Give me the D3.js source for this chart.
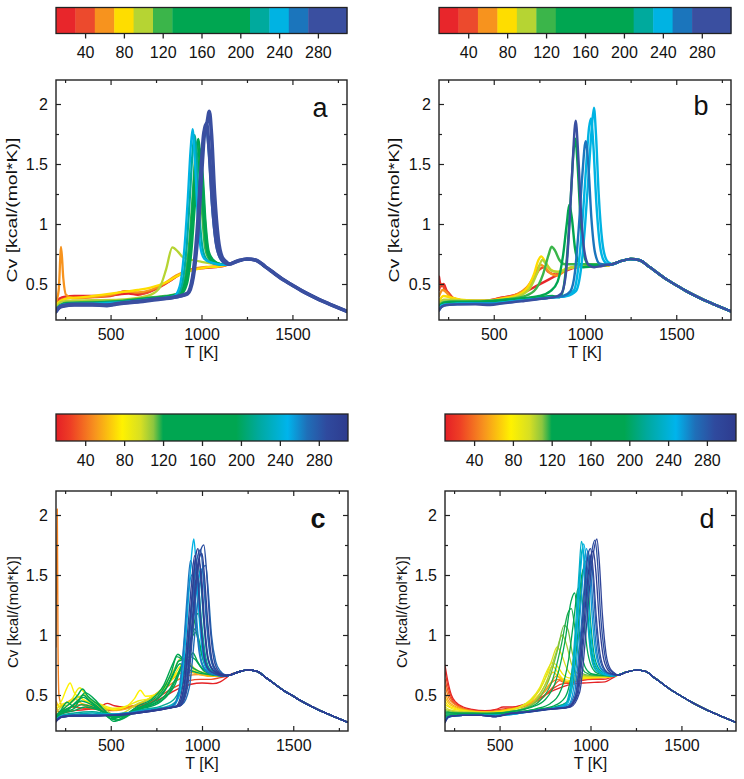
<!DOCTYPE html>
<html><head><meta charset="utf-8">
<script src="https://cdn.jsdelivr.net/npm/d3@7"></script>
<style>
body{margin:0;background:#fff}
svg{display:block}
text{font-family:"Liberation Sans",Arial,Helvetica,sans-serif;fill:#111}
</style>
</head><body>
<svg id="fig" width="744" height="779"></svg>
<script>
// ---------- data ----------
const tempDomain = [200, 1800];
const cvDomain = [0.2, 2.2];
const tempTicks = [500, 1000, 1500];
const tempMinor = [250, 750, 1250, 1750];
const cvTicks = [0.5, 1, 1.5, 2];
const cvMinor = [0.75, 1.25, 1.75];
const cbarDomain = [10, 310];
const cbarTicks = [40, 80, 120, 160, 200, 240, 280];
const bandEdges = [30, 50, 70, 90, 110, 130, 210, 230, 250, 270];
const bandColors = ["#e8262b","#ec4a2d","#f7931e","#fedd00","#b6d433","#3bb54a","#00a651","#00aa9d","#00b3e3","#1b75bc","#3a4fa0"];
const gradValues = [10, 25, 50, 78, 97, 110, 120, 195, 218, 248, 268, 288, 310];
const gradColors = ["#e41f26","#ee3e25","#f7931e","#fff200","#d7df23","#8dc63f","#00a651","#00a651","#00a99d","#00b4ec","#1f6fb8","#2f4a9e","#2e3b8e"];
const panelLetters = ["a","b","c","d"];
const xTitle = "T [K]";
const yTitle = "Cv [kcal/(mol*K)]";

// common high-temperature branch shared by all curves
const tailT = [1150,1200,1250,1300,1350,1400,1450,1500,1550,1600,1650,1700,1750,1800];
const tailV = [0.665,0.692,0.708,0.698,0.645,0.59,0.535,0.49,0.445,0.405,0.368,0.335,0.303,0.272];

// panel a
const aParam = [20,40,60,80,100,120,150,180,200,220,240,260,290,300];
const aCurves = [
 [[200,0.34],[220,0.38],[250,0.395],[300,0.40],[400,0.40],[500,0.405],[600,0.42],[650,0.41],[700,0.43],[760,0.47],[820,0.52],[870,0.57],[920,0.61],[970,0.63],[1030,0.635],[1080,0.64],[1120,0.65]],
 [[200,0.33],[220,0.36],[250,0.38],[300,0.385],[400,0.39],[500,0.40],[580,0.44],[620,0.43],[680,0.42],[740,0.45],[800,0.50],[860,0.56],[910,0.60],[960,0.625],[1020,0.635],[1080,0.645],[1120,0.65]],
 [[200,0.35],[215,0.45],[228,0.81],[240,0.55],[255,0.41],[300,0.38],[400,0.39],[500,0.41],[590,0.44],[650,0.43],[720,0.45],[790,0.50],[860,0.57],[920,0.61],[980,0.635],[1050,0.645],[1120,0.655]],
 [[200,0.33],[225,0.36],[260,0.38],[350,0.39],[450,0.41],[550,0.43],[650,0.45],[720,0.47],[800,0.51],[870,0.57],[920,0.60],[980,0.625],[1040,0.64],[1090,0.645],[1120,0.655]],
 [[200,0.30],[225,0.35],[260,0.36],[400,0.365],[550,0.37],[650,0.385],[720,0.41],[770,0.47],[805,0.62],[840,0.805],[870,0.77],[900,0.72],[950,0.70],[1000,0.685],[1060,0.67],[1120,0.66]],
 [[200,0.29],[225,0.33],[260,0.345],[400,0.35],[550,0.36],[700,0.385],[800,0.40],[870,0.42],[905,0.52],[930,0.80],[950,1.20],[965,1.55],[975,1.68],[988,1.50],[1003,1.10],[1020,0.80],[1045,0.70],[1080,0.675],[1120,0.66]],
 [[200,0.28],[225,0.32],[260,0.34],[400,0.345],[550,0.355],[700,0.38],[800,0.395],[875,0.42],[910,0.52],[935,0.80],[955,1.25],[970,1.60],[982,1.71],[995,1.50],[1010,1.10],[1028,0.80],[1050,0.70],[1085,0.675],[1120,0.66]],
 [[200,0.28],[225,0.32],[260,0.335],[400,0.34],[550,0.35],[700,0.375],[800,0.39],[880,0.41],[915,0.50],[940,0.78],[960,1.20],[978,1.55],[990,1.63],[1002,1.45],[1018,1.05],[1035,0.78],[1060,0.70],[1090,0.67],[1120,0.66]],
 [[200,0.28],[225,0.32],[260,0.335],[400,0.34],[550,0.35],[700,0.375],[800,0.39],[885,0.41],[920,0.50],[945,0.78],[965,1.18],[983,1.48],[995,1.55],[1007,1.40],[1022,1.02],[1040,0.77],[1065,0.70],[1095,0.67],[1120,0.66]],
 [[200,0.28],[225,0.32],[260,0.335],[400,0.34],[550,0.35],[700,0.37],[800,0.385],[860,0.40],[890,0.48],[915,0.75],[935,1.20],[950,1.58],[962,1.74],[975,1.50],[990,1.05],[1008,0.78],[1030,0.70],[1070,0.67],[1120,0.66]],
 [[200,0.28],[225,0.32],[260,0.33],[400,0.335],[550,0.345],[700,0.37],[800,0.385],[850,0.40],[880,0.48],[905,0.78],[925,1.22],[940,1.62],[951,1.79],[963,1.55],[978,1.10],[995,0.80],[1015,0.71],[1050,0.68],[1120,0.66]],
 [[200,0.27],[215,0.30],[240,0.32],[300,0.33],[400,0.33],[480,0.325],[550,0.34],[650,0.355],[750,0.375],[850,0.39],[920,0.42],[950,0.55],[975,0.90],[995,1.35],[1012,1.70],[1025,1.80],[1040,1.60],[1058,1.15],[1078,0.85],[1100,0.72],[1130,0.67]],
 [[200,0.27],[215,0.30],[240,0.32],[300,0.33],[400,0.33],[480,0.325],[550,0.34],[650,0.355],[750,0.375],[850,0.39],[925,0.42],[955,0.56],[980,0.92],[1000,1.40],[1018,1.78],[1030,1.84],[1043,1.94],[1055,1.75],[1072,1.25],[1092,0.88],[1115,0.72],[1140,0.68]],
 [[200,0.27],[215,0.30],[240,0.315],[300,0.325],[400,0.325],[480,0.32],[550,0.335],[650,0.35],[750,0.37],[850,0.39],[920,0.42],[950,0.55],[975,0.92],[995,1.40],[1012,1.75],[1028,1.84],[1042,1.62],[1060,1.18],[1080,0.86],[1105,0.72],[1135,0.675]]
];

// panel b
const bParam = [20,40,60,80,100,120,160,180,240,245,260,290];
const bCurves = [
 [[200,0.56],[212,0.48],[225,0.50],[240,0.45],[260,0.40],[300,0.37],[400,0.355],[500,0.37],[560,0.39],[620,0.41],[680,0.44],[730,0.48],[780,0.52],[830,0.56],[880,0.60],[930,0.63],[980,0.645],[1040,0.65],[1090,0.65],[1120,0.655]],
 [[200,0.45],[215,0.50],[230,0.46],[250,0.43],[280,0.38],[350,0.36],[450,0.36],[540,0.385],[600,0.40],[660,0.44],[710,0.52],[750,0.62],[775,0.64],[800,0.60],[840,0.58],[880,0.61],[930,0.64],[1000,0.65],[1060,0.65],[1120,0.655]],
 [[200,0.40],[220,0.45],[240,0.43],[270,0.38],[350,0.36],[450,0.355],[550,0.38],[620,0.41],[680,0.47],[720,0.56],[755,0.66],[780,0.64],[810,0.59],[850,0.57],[890,0.61],[940,0.64],[1000,0.65],[1120,0.655]],
 [[200,0.36],[225,0.40],[260,0.39],[320,0.37],[450,0.36],[550,0.38],[620,0.40],[680,0.46],[720,0.58],[745,0.70],[760,0.73],[780,0.69],[810,0.62],[850,0.60],[900,0.63],[960,0.645],[1040,0.65],[1120,0.655]],
 [[200,0.34],[225,0.37],[260,0.37],[350,0.36],[450,0.36],[550,0.37],[640,0.40],[700,0.47],[740,0.60],[765,0.70],[790,0.66],[820,0.61],[860,0.60],[910,0.63],[970,0.645],[1050,0.65],[1120,0.655]],
 [[200,0.32],[225,0.35],[260,0.355],[400,0.355],[550,0.37],[650,0.39],[720,0.44],[770,0.58],[800,0.74],[817,0.81],[835,0.78],[860,0.70],[890,0.665],[940,0.665],[1000,0.665],[1060,0.665],[1120,0.66]],
 [[200,0.31],[225,0.34],[260,0.35],[400,0.35],[550,0.365],[650,0.38],[750,0.40],[810,0.44],[850,0.52],[880,0.74],[900,1.00],[914,1.16],[928,1.05],[945,0.80],[965,0.68],[990,0.64],[1030,0.645],[1080,0.655],[1120,0.66]],
 [[200,0.31],[225,0.34],[260,0.345],[400,0.35],[550,0.36],[650,0.375],[750,0.39],[820,0.40],[860,0.39],[880,0.45],[905,0.80],[925,1.30],[938,1.62],[947,1.71],[960,1.48],[975,1.05],[995,0.74],[1020,0.66],[1060,0.655],[1120,0.66]],
 [[200,0.29],[215,0.32],[240,0.33],[300,0.335],[400,0.34],[500,0.34],[600,0.355],[700,0.37],[800,0.385],[900,0.40],[950,0.44],[980,0.65],[1000,0.98],[1020,1.42],[1037,1.80],[1049,1.97],[1060,1.75],[1075,1.25],[1095,0.85],[1118,0.70],[1140,0.67]],
 [[200,0.29],[215,0.32],[240,0.33],[300,0.335],[400,0.34],[500,0.34],[600,0.355],[700,0.37],[800,0.385],[890,0.40],[940,0.45],[965,0.66],[985,1.00],[1005,1.45],[1022,1.80],[1033,1.88],[1046,1.65],[1062,1.18],[1082,0.82],[1105,0.69],[1130,0.665]],
 [[200,0.28],[215,0.31],[240,0.325],[300,0.33],[400,0.335],[500,0.335],[600,0.35],[700,0.37],[800,0.385],[880,0.40],[920,0.44],[945,0.60],[965,0.95],[985,1.40],[1004,1.69],[1018,1.50],[1035,1.05],[1055,0.76],[1080,0.67],[1120,0.66]],
 [[200,0.28],[215,0.31],[240,0.325],[300,0.33],[400,0.33],[480,0.325],[550,0.34],[650,0.355],[750,0.375],[830,0.39],[870,0.42],[895,0.58],[915,1.00],[932,1.50],[949,1.86],[962,1.60],[978,1.10],[998,0.76],[1020,0.66],[1050,0.64],[1090,0.65],[1120,0.66]]
];

// panel c
const cParam = [12,28,45,60,78,85,100,120,135,140,150,165,180,195,215,228,245,252,265,270,275,285,295,305,280,290,300,258];
const cCurves = [
 [[200,0.36],[215,0.33],[240,0.35],[300,0.37],[380,0.38],[440,0.40],[480,0.43],[520,0.41],[580,0.40],[640,0.41],[700,0.43],[760,0.46],[820,0.51],[880,0.56],[940,0.59],[1000,0.60],[1060,0.595],[1100,0.61],[1130,0.64]],
 [[200,0.42],[212,0.36],[240,0.37],[290,0.40],[350,0.39],[420,0.38],[500,0.37],[560,0.38],[620,0.40],[690,0.42],[750,0.47],[810,0.53],[870,0.58],[930,0.62],[990,0.63],[1050,0.63],[1100,0.645],[1130,0.655]],
 [[200,0.90],[207,2.05],[211,0.90],[216,0.50],[228,0.42],[250,0.38],[280,0.40],[330,0.42],[380,0.40],[440,0.39],[500,0.38],[560,0.39],[620,0.41],[680,0.44],[740,0.50],[800,0.56],[860,0.62],[920,0.66],[980,0.67],[1040,0.66],[1100,0.655],[1130,0.66]],
 [[200,0.45],[220,0.40],[260,0.44],[300,0.47],[340,0.43],[400,0.41],[460,0.39],[530,0.37],[600,0.39],[660,0.43],[720,0.48],[780,0.55],[830,0.62],[880,0.68],[930,0.69],[990,0.67],[1050,0.655],[1120,0.66]],
 [[200,0.40],[230,0.45],[260,0.56],[277,0.60],[300,0.52],[340,0.47],[400,0.43],[460,0.40],[520,0.38],[580,0.40],[630,0.47],[662,0.54],[690,0.49],[740,0.50],[800,0.57],[850,0.66],[900,0.72],[950,0.70],[1000,0.68],[1060,0.665],[1120,0.66]],
 [[200,0.38],[230,0.42],[280,0.45],[330,0.56],[350,0.53],[390,0.46],[450,0.42],[520,0.39],[590,0.41],[650,0.45],[710,0.47],[770,0.52],[830,0.62],[880,0.74],[920,0.78],[960,0.72],[1010,0.68],[1070,0.665],[1120,0.66]],
 [[200,0.35],[230,0.40],[270,0.42],[320,0.48],[360,0.50],[400,0.45],[460,0.40],[520,0.33],[580,0.36],[650,0.43],[720,0.47],[790,0.57],[850,0.72],[880,0.80],[910,0.78],[950,0.72],[1000,0.69],[1060,0.67],[1120,0.66]],
 [[200,0.33],[230,0.37],[270,0.42],[320,0.50],[345,0.55],[375,0.49],[430,0.42],[490,0.34],[530,0.29],[580,0.33],[650,0.41],[720,0.46],[790,0.58],[840,0.76],[868,0.84],[895,0.80],[930,0.75],[980,0.70],[1040,0.67],[1120,0.66]],
 [[200,0.32],[230,0.36],[280,0.40],[330,0.47],[360,0.52],[400,0.48],[460,0.38],[515,0.28],[570,0.31],[640,0.38],[710,0.44],[780,0.53],[830,0.68],[862,0.82],[890,0.80],[920,0.78],[950,0.85],[975,0.78],[1010,0.70],[1060,0.67],[1120,0.66]],
 [[200,0.32],[230,0.38],[260,0.44],[300,0.40],[350,0.50],[380,0.46],[430,0.40],[490,0.31],[540,0.29],[600,0.33],[670,0.40],[740,0.45],[800,0.55],[850,0.70],[880,0.76],[910,0.72],[945,0.70],[990,0.68],[1050,0.67],[1120,0.66]],
 [[200,0.31],[230,0.35],[270,0.38],[310,0.44],[350,0.48],[390,0.44],[450,0.36],[510,0.30],[570,0.33],[640,0.39],[720,0.43],[790,0.52],[840,0.66],[870,0.78],[900,0.80],[930,0.90],[960,1.05],[980,0.98],[1005,0.80],[1035,0.70],[1080,0.67],[1120,0.66]],
 [[200,0.32],[230,0.36],[280,0.40],[340,0.45],[380,0.43],[440,0.38],[500,0.32],[560,0.32],[640,0.38],[720,0.42],[800,0.50],[850,0.62],[880,0.72],[910,0.82],[940,0.96],[965,1.15],[980,1.18],[995,1.05],[1015,0.82],[1040,0.71],[1080,0.675],[1120,0.66]],
 [[200,0.31],[230,0.35],[290,0.38],[340,0.42],[400,0.40],[460,0.36],[520,0.31],[580,0.33],[650,0.38],[730,0.42],[800,0.48],[850,0.58],[880,0.70],[905,0.78],[935,0.82],[960,0.80],[990,0.74],[1030,0.69],[1080,0.67],[1120,0.66]],
 [[200,0.30],[230,0.34],[300,0.37],[360,0.40],[420,0.38],[480,0.35],[540,0.33],[600,0.35],[680,0.39],[760,0.43],[820,0.52],[860,0.64],[890,0.74],[920,0.85],[945,0.98],[965,1.02],[985,0.92],[1010,0.78],[1040,0.70],[1085,0.67],[1120,0.66]],
 [[200,0.30],[230,0.33],[300,0.35],[400,0.36],[500,0.34],[580,0.35],[680,0.38],[780,0.41],[850,0.47],[890,0.62],[920,0.90],[945,1.25],[965,1.45],[980,1.40],[998,1.10],[1020,0.82],[1045,0.71],[1085,0.675],[1120,0.66]],
 [[200,0.29],[230,0.33],[300,0.34],[400,0.35],[500,0.34],[600,0.35],[700,0.38],[800,0.40],[860,0.45],[900,0.65],[930,1.05],[955,1.42],[975,1.58],[992,1.45],[1010,1.10],[1030,0.82],[1055,0.71],[1090,0.67],[1120,0.66]],
 [[200,0.29],[230,0.32],[300,0.33],[400,0.335],[500,0.34],[600,0.35],[700,0.37],[800,0.39],[850,0.42],[885,0.58],[910,0.95],[930,1.40],[945,1.70],[955,1.80],[967,1.60],[982,1.20],[1000,0.88],[1025,0.72],[1060,0.675],[1120,0.66]],
 [[200,0.29],[230,0.32],[300,0.33],[400,0.335],[500,0.335],[600,0.35],[700,0.37],[800,0.39],[870,0.41],[910,0.55],[940,0.92],[965,1.30],[985,1.50],[1000,1.55],[1015,1.35],[1035,0.98],[1058,0.76],[1085,0.68],[1120,0.66]],
 [[200,0.28],[230,0.32],[300,0.33],[400,0.33],[500,0.33],[600,0.345],[700,0.365],[780,0.385],[840,0.41],[875,0.55],[900,0.92],[920,1.35],[937,1.62],[950,1.52],[965,1.18],[985,0.85],[1010,0.72],[1050,0.675],[1120,0.66]],
 [[200,0.285],[230,0.32],[300,0.33],[400,0.33],[500,0.335],[600,0.35],[700,0.37],[800,0.39],[890,0.42],[930,0.56],[960,1.00],[985,1.40],[1005,1.56],[1020,1.58],[1035,1.35],[1052,1.00],[1075,0.78],[1100,0.70],[1125,0.67]],
 [[200,0.28],[230,0.32],[300,0.33],[400,0.33],[500,0.335],[600,0.345],[700,0.365],[800,0.39],[870,0.41],[905,0.56],[932,0.98],[955,1.40],[975,1.65],[992,1.71],[1007,1.50],[1025,1.10],[1048,0.80],[1075,0.70],[1110,0.67]],
 [[200,0.28],[230,0.32],[300,0.33],[400,0.33],[500,0.33],[600,0.345],[700,0.365],[800,0.39],[880,0.41],[920,0.56],[948,1.00],[970,1.42],[992,1.70],[1010,1.75],[1024,1.55],[1042,1.12],[1065,0.80],[1090,0.70],[1120,0.67]],
 [[200,0.28],[230,0.315],[300,0.325],[400,0.325],[500,0.33],[600,0.34],[700,0.36],[800,0.385],[860,0.41],[895,0.58],[920,1.00],[942,1.42],[960,1.66],[974,1.52],[990,1.15],[1010,0.82],[1035,0.71],[1075,0.675],[1120,0.66]],
 [[200,0.28],[230,0.315],[300,0.325],[400,0.325],[500,0.33],[600,0.34],[700,0.36],[800,0.385],[865,0.41],[900,0.56],[928,1.00],[952,1.45],[968,1.68],[978,1.72],[992,1.52],[1010,1.12],[1030,0.82],[1058,0.71],[1095,0.675],[1120,0.66]],
 [[200,0.28],[230,0.32],[300,0.33],[400,0.33],[500,0.33],[600,0.345],[700,0.365],[800,0.39],[870,0.41],[905,0.58],[930,1.00],[950,1.40],[965,1.64],[978,1.50],[994,1.12],[1014,0.82],[1040,0.71],[1080,0.675],[1120,0.66]],
 [[200,0.28],[230,0.32],[300,0.33],[400,0.33],[500,0.33],[600,0.345],[700,0.365],[800,0.39],[880,0.41],[915,0.56],[942,0.98],[965,1.38],[985,1.60],[998,1.48],[1014,1.10],[1035,0.80],[1060,0.71],[1095,0.675],[1120,0.66]],
 [[200,0.28],[230,0.315],[300,0.325],[400,0.325],[500,0.33],[600,0.34],[700,0.36],[800,0.385],[875,0.41],[912,0.56],[940,1.00],[962,1.40],[984,1.64],[1000,1.68],[1013,1.50],[1032,1.10],[1055,0.79],[1082,0.70],[1115,0.67]],
 [[200,0.29],[230,0.32],[300,0.33],[400,0.335],[500,0.335],[600,0.35],[700,0.37],[800,0.39],[850,0.42],[882,0.60],[905,0.98],[925,1.35],[945,1.50],[960,1.38],[975,1.05],[995,0.80],[1020,0.71],[1060,0.675],[1120,0.66]]
];

// panel d
const dParam = [12,22,32,45,55,65,75,85,95,105,112,118,130,150,175,200,215,235,245,255,265,275,285,290,295,305];
const dCurves = [
 [[200,0.75],[215,0.62],[235,0.50],[260,0.44],[300,0.40],[350,0.38],[420,0.37],[480,0.38],[520,0.40],[570,0.40],[630,0.42],[690,0.45],[750,0.50],[800,0.54],[850,0.57],[900,0.59],[960,0.60],[1020,0.605],[1080,0.61],[1120,0.64]],
 [[200,0.70],[215,0.58],[235,0.48],[260,0.43],[300,0.39],[360,0.37],[430,0.365],[500,0.38],[560,0.39],[620,0.41],[680,0.44],[740,0.49],[790,0.55],[840,0.59],[890,0.60],[950,0.62],[1010,0.63],[1070,0.63],[1120,0.65]],
 [[200,0.63],[215,0.54],[235,0.46],[260,0.42],[300,0.385],[360,0.37],[430,0.36],[500,0.37],[560,0.385],[620,0.40],[680,0.43],[740,0.48],[790,0.56],[830,0.62],[860,0.60],[900,0.61],[960,0.63],[1030,0.64],[1090,0.645],[1120,0.655]],
 [[200,0.58],[220,0.48],[245,0.43],[280,0.40],[340,0.37],[420,0.36],[500,0.37],[580,0.39],[640,0.41],[700,0.46],[750,0.53],[800,0.62],[830,0.63],[860,0.61],[910,0.62],[970,0.64],[1040,0.645],[1120,0.655]],
 [[200,0.52],[220,0.45],[250,0.41],[300,0.38],[380,0.36],[460,0.36],[540,0.38],[620,0.40],[680,0.44],[730,0.50],[780,0.60],[815,0.66],[845,0.63],[880,0.61],[940,0.63],[1010,0.645],[1080,0.65],[1120,0.655]],
 [[200,0.48],[220,0.43],[250,0.40],[300,0.375],[380,0.36],[460,0.355],[540,0.375],[610,0.40],[670,0.44],[720,0.51],[765,0.62],[795,0.69],[825,0.65],[860,0.61],[910,0.62],[970,0.64],[1050,0.65],[1120,0.655]],
 [[200,0.45],[220,0.41],[250,0.39],[300,0.37],[380,0.355],[460,0.355],[540,0.37],[610,0.40],[670,0.45],[720,0.54],[760,0.66],[790,0.74],[815,0.70],[845,0.64],[890,0.62],[950,0.635],[1030,0.645],[1120,0.655]],
 [[200,0.42],[220,0.40],[250,0.38],[300,0.37],[380,0.355],[460,0.355],[540,0.37],[610,0.40],[670,0.46],[720,0.56],[760,0.70],[790,0.77],[818,0.74],[850,0.67],[890,0.64],[950,0.645],[1030,0.65],[1120,0.655]],
 [[200,0.40],[220,0.38],[250,0.37],[300,0.36],[400,0.35],[480,0.35],[560,0.37],[630,0.41],[690,0.48],[740,0.60],[785,0.78],[817,0.90],[840,0.84],[870,0.72],[905,0.66],[960,0.655],[1040,0.655],[1120,0.66]],
 [[200,0.38],[225,0.37],[260,0.36],[350,0.355],[450,0.35],[550,0.36],[630,0.39],[700,0.46],[760,0.62],[810,0.85],[845,1.00],[868,0.92],[895,0.76],[930,0.68],[980,0.66],[1050,0.66],[1120,0.66]],
 [[200,0.37],[225,0.36],[260,0.355],[350,0.35],[450,0.35],[550,0.36],[640,0.39],[710,0.46],[770,0.62],[820,0.88],[855,1.08],[875,1.05],[900,0.85],[930,0.72],[970,0.67],[1040,0.66],[1120,0.66]],
 [[200,0.36],[225,0.355],[260,0.35],[350,0.35],[450,0.345],[550,0.36],[650,0.39],[720,0.45],[790,0.62],[840,0.92],[875,1.18],[895,1.22],[915,1.05],[940,0.80],[970,0.69],[1020,0.665],[1120,0.66]],
 [[200,0.35],[230,0.35],[300,0.345],[400,0.345],[500,0.35],[600,0.37],[680,0.40],[750,0.46],[810,0.62],[860,0.95],[893,1.28],[913,1.35],[930,1.15],[950,0.86],[975,0.72],[1010,0.675],[1060,0.665],[1120,0.66]],
 [[200,0.34],[230,0.34],[300,0.34],[400,0.34],[500,0.345],[600,0.36],[700,0.385],[780,0.43],[840,0.55],[880,0.80],[910,1.15],[930,1.38],[945,1.40],[960,1.20],[980,0.90],[1005,0.74],[1040,0.68],[1120,0.66]],
 [[200,0.33],[230,0.335],[300,0.335],[400,0.335],[500,0.34],[600,0.355],[700,0.38],[800,0.41],[860,0.48],[900,0.72],[930,1.15],[950,1.48],[962,1.55],[975,1.40],[992,1.05],[1015,0.80],[1045,0.70],[1085,0.67],[1120,0.66]],
 [[200,0.32],[230,0.33],[300,0.335],[400,0.335],[500,0.335],[600,0.35],[700,0.375],[800,0.40],[870,0.44],[905,0.62],[935,1.10],[955,1.48],[970,1.62],[983,1.50],[1000,1.12],[1022,0.82],[1050,0.71],[1090,0.67],[1120,0.66]],
 [[200,0.31],[230,0.325],[300,0.33],[400,0.33],[500,0.335],[600,0.35],[700,0.37],[800,0.395],[865,0.43],[900,0.64],[925,1.10],[943,1.55],[955,1.72],[968,1.58],[985,1.15],[1005,0.84],[1030,0.71],[1070,0.67],[1120,0.66]],
 [[200,0.30],[230,0.32],[300,0.33],[400,0.33],[500,0.33],[600,0.345],[700,0.37],[800,0.39],[860,0.42],[895,0.64],[920,1.12],[938,1.55],[950,1.78],[962,1.68],[978,1.25],[998,0.88],[1022,0.72],[1060,0.675],[1120,0.66]],
 [[200,0.30],[230,0.32],[300,0.33],[400,0.33],[500,0.33],[600,0.345],[700,0.37],[800,0.39],[870,0.42],[905,0.66],[930,1.15],[948,1.58],[962,1.76],[976,1.62],[992,1.20],[1012,0.86],[1038,0.72],[1075,0.675],[1120,0.66]],
 [[200,0.29],[230,0.32],[300,0.33],[400,0.33],[500,0.33],[600,0.345],[700,0.365],[800,0.39],[880,0.42],[915,0.64],[942,1.15],[962,1.55],[978,1.72],[992,1.58],[1008,1.18],[1030,0.84],[1055,0.72],[1090,0.675],[1120,0.66]],
 [[200,0.28],[225,0.32],[300,0.33],[400,0.33],[480,0.325],[550,0.345],[650,0.36],[750,0.38],[870,0.40],[910,0.50],[945,1.00],[968,1.45],[985,1.70],[998,1.60],[1015,1.20],[1035,0.86],[1060,0.72],[1095,0.68],[1120,0.67]],
 [[200,0.28],[225,0.32],[300,0.33],[400,0.33],[480,0.325],[550,0.345],[650,0.36],[750,0.38],[880,0.40],[920,0.50],[955,1.02],[978,1.45],[995,1.66],[1008,1.58],[1025,1.18],[1045,0.85],[1070,0.72],[1100,0.68],[1125,0.67]],
 [[200,0.27],[220,0.32],[300,0.33],[400,0.33],[480,0.32],[550,0.345],[650,0.36],[750,0.38],[880,0.40],[930,0.50],[965,1.00],[990,1.45],[1010,1.72],[1025,1.79],[1038,1.62],[1055,1.18],[1078,0.84],[1100,0.72],[1130,0.68]],
 [[200,0.275],[220,0.32],[300,0.33],[400,0.33],[480,0.32],[550,0.345],[650,0.36],[750,0.38],[875,0.40],[918,0.50],[950,1.00],[972,1.45],[988,1.68],[1000,1.72],[1014,1.55],[1032,1.15],[1055,0.82],[1080,0.71],[1110,0.675]],
 [[200,0.27],[220,0.32],[300,0.33],[400,0.33],[480,0.32],[550,0.345],[650,0.36],[750,0.38],[890,0.40],[940,0.52],[975,1.02],[1000,1.48],[1020,1.72],[1035,1.80],[1048,1.62],[1065,1.18],[1085,0.85],[1108,0.72],[1135,0.68]],
 [[200,0.27],[220,0.32],[300,0.33],[400,0.33],[480,0.32],[550,0.34],[650,0.355],[750,0.375],[880,0.40],[925,0.50],[958,0.98],[982,1.42],[1000,1.65],[1015,1.70],[1030,1.52],[1048,1.12],[1070,0.82],[1095,0.71],[1125,0.675]]
];

// ---------- layout ----------
const layout = [
  {L:56,  R:347, T:80,  B:320, cbT:7.5,  cbB:33.5, lx:320, ly:117, tx:17,  ty:210, tlen:145, bold:false},
  {L:439, R:731, T:80,  B:320, cbT:7.5,  cbB:33.5, lx:701, ly:115, tx:399, ty:210, tlen:145, bold:false},
  {L:56,  R:348, T:491, B:731, cbT:414,  cbB:441,  lx:318, ly:528, tx:18,  ty:612, tlen:112, bold:true},
  {L:445, R:736, T:491, B:731, cbT:414,  cbB:441,  lx:707, ly:528, tx:407, ty:612, tlen:112, bold:false}
];

const FONT = '"Liberation Sans",Arial,Helvetica,sans-serif';
const svg = d3.select("#fig");
const bandScale = d3.scaleThreshold().domain(bandEdges).range(bandColors);
const gradScale = d3.scaleLinear().domain(gradValues).range(gradColors).clamp(true);
const defs = svg.append("defs");

const panels = [
  {params:aParam, curves:aCurves, color:bandScale, discrete:true,  width:p => p >= 270 ? 3.6 : 2.3},
  {params:bParam, curves:bCurves, color:bandScale, discrete:true,  width:p => 2.4},
  {params:cParam, curves:cCurves, color:gradScale, discrete:false, width:p => 1.4},
  {params:dParam, curves:dCurves, color:gradScale, discrete:false, width:p => 1.3}
];

panels.forEach((P, pi) => {
  const c = layout[pi];
  const g = svg.append("g");
  const x = d3.scaleLinear().domain(tempDomain).range([c.L, c.R]);
  const y = d3.scaleLinear().domain(cvDomain).range([c.B, c.T]);

  // ----- colour bar -----
  const cx = d3.scaleLinear().domain(cbarDomain).range([c.L, c.R]);
  if (P.discrete) {
    const edges = [cbarDomain[0]].concat(bandEdges, [cbarDomain[1]]);
    g.selectAll(null).data(d3.range(bandColors.length)).join("rect")
      .attr("x", i => cx(edges[i])).attr("y", c.cbT)
      .attr("width", i => cx(edges[i+1]) - cx(edges[i]) + 0.4)
      .attr("height", c.cbB - c.cbT)
      .attr("fill", i => bandColors[i]);
  } else {
    const gid = "grad" + pi;
    const lg = defs.append("linearGradient").attr("id", gid)
      .attr("x1", "0%").attr("x2", "100%").attr("y1", "0%").attr("y2", "0%");
    lg.selectAll("stop").data(gradValues).join("stop")
      .attr("offset", v => ((v - cbarDomain[0]) / (cbarDomain[1] - cbarDomain[0]) * 100) + "%")
      .attr("stop-color", (v, i) => gradColors[i]);
    g.append("rect").attr("x", c.L).attr("y", c.cbT)
      .attr("width", c.R - c.L).attr("height", c.cbB - c.cbT)
      .attr("fill", `url(#${gid})`);
  }
  g.append("rect").attr("x", c.L).attr("y", c.cbT)
    .attr("width", c.R - c.L).attr("height", c.cbB - c.cbT)
    .attr("fill", "none").attr("stroke", "#222").attr("stroke-width", 1.3);
  const cbAxis = g.append("g").attr("transform", `translate(0,${c.cbB})`)
    .call(d3.axisBottom(cx).tickValues(cbarTicks).tickSize(5).tickPadding(8.5).tickFormat(d3.format("d")));
  cbAxis.select(".domain").remove();
  cbAxis.selectAll("line").attr("stroke", "#222").attr("stroke-width", 1.3);
  cbAxis.selectAll("text").attr("font-size", 16).attr("font-family", FONT).attr("fill", "#111");

  // ----- curves -----
  const clipId = "clip" + pi;
  defs.append("clipPath").attr("id", clipId).append("rect")
    .attr("x", c.L).attr("y", c.T).attr("width", c.R - c.L).attr("height", c.B - c.T);
  const line = d3.line().x(d => x(d[0])).y(d => y(d[1])).curve(d3.curveMonotoneX);
  const order = d3.range(P.curves.length).sort((i, j) => P.params[i] - P.params[j]);
  const cg = g.append("g").attr("clip-path", `url(#${clipId})`);
  order.forEach(i => {
    const pts = P.curves[i];
    const last = pts[pts.length - 1][0];
    const full = pts.concat(tailT.map((t, k) => [t, tailV[k]]).filter(d => d[0] > last + 5));
    cg.append("path").attr("d", line(full))
      .attr("fill", "none")
      .attr("stroke", P.color(P.params[i]))
      .attr("stroke-width", P.width(P.params[i]))
      .attr("stroke-linejoin", "round").attr("stroke-linecap", "round");
  });

  // ----- frame & ticks -----
  const styleAxis = sel => {
    sel.select(".domain").remove();
    sel.selectAll("line").attr("stroke", "#222").attr("stroke-width", 1.2);
    sel.selectAll("text").attr("font-size", 16).attr("font-family", FONT).attr("fill", "#111");
  };
  g.append("g").attr("transform", `translate(0,${c.B})`)
    .call(d3.axisBottom(x).tickValues(tempTicks).tickSize(-5).tickPadding(8.6).tickFormat(d3.format("d"))).call(styleAxis);
  g.append("g").attr("transform", `translate(0,${c.B})`)
    .call(d3.axisBottom(x).tickValues(tempMinor).tickSize(-3).tickFormat("")).call(styleAxis);
  g.append("g").attr("transform", `translate(0,${c.T})`)
    .call(d3.axisTop(x).tickValues(tempTicks).tickSize(-5).tickFormat("")).call(styleAxis);
  g.append("g").attr("transform", `translate(0,${c.T})`)
    .call(d3.axisTop(x).tickValues(tempMinor).tickSize(-3).tickFormat("")).call(styleAxis);
  g.append("g").attr("transform", `translate(${c.L},0)`)
    .call(d3.axisLeft(y).tickValues(cvTicks).tickSize(-5).tickPadding(8).tickFormat(d3.format(""))).call(styleAxis);
  g.append("g").attr("transform", `translate(${c.L},0)`)
    .call(d3.axisLeft(y).tickValues(cvMinor).tickSize(-3).tickFormat("")).call(styleAxis);
  g.append("g").attr("transform", `translate(${c.R},0)`)
    .call(d3.axisRight(y).tickValues(cvTicks).tickSize(-5).tickFormat("")).call(styleAxis);
  g.append("g").attr("transform", `translate(${c.R},0)`)
    .call(d3.axisRight(y).tickValues(cvMinor).tickSize(-3).tickFormat("")).call(styleAxis);
  g.append("rect").attr("x", c.L).attr("y", c.T)
    .attr("width", c.R - c.L).attr("height", c.B - c.T)
    .attr("fill", "none").attr("stroke", "#222").attr("stroke-width", 1.4);

  // ----- titles -----
  g.append("text").attr("x", (c.L + c.R) / 2).attr("y", c.B + 38)
    .attr("text-anchor", "middle").attr("font-size", 16).text(xTitle);
  g.append("text")
    .attr("transform", `translate(${c.tx},${c.ty}) rotate(-90)`)
    .attr("text-anchor", "middle").attr("font-size", 15)
    .attr("textLength", c.tlen).attr("lengthAdjust", "spacingAndGlyphs")
    .text(yTitle);
  g.append("text").attr("x", c.lx).attr("y", c.ly)
    .attr("text-anchor", "middle").attr("font-size", 27)
    .attr("font-weight", c.bold ? "bold" : "normal")
    .text(panelLetters[pi]);
});
</script>
</body></html>
